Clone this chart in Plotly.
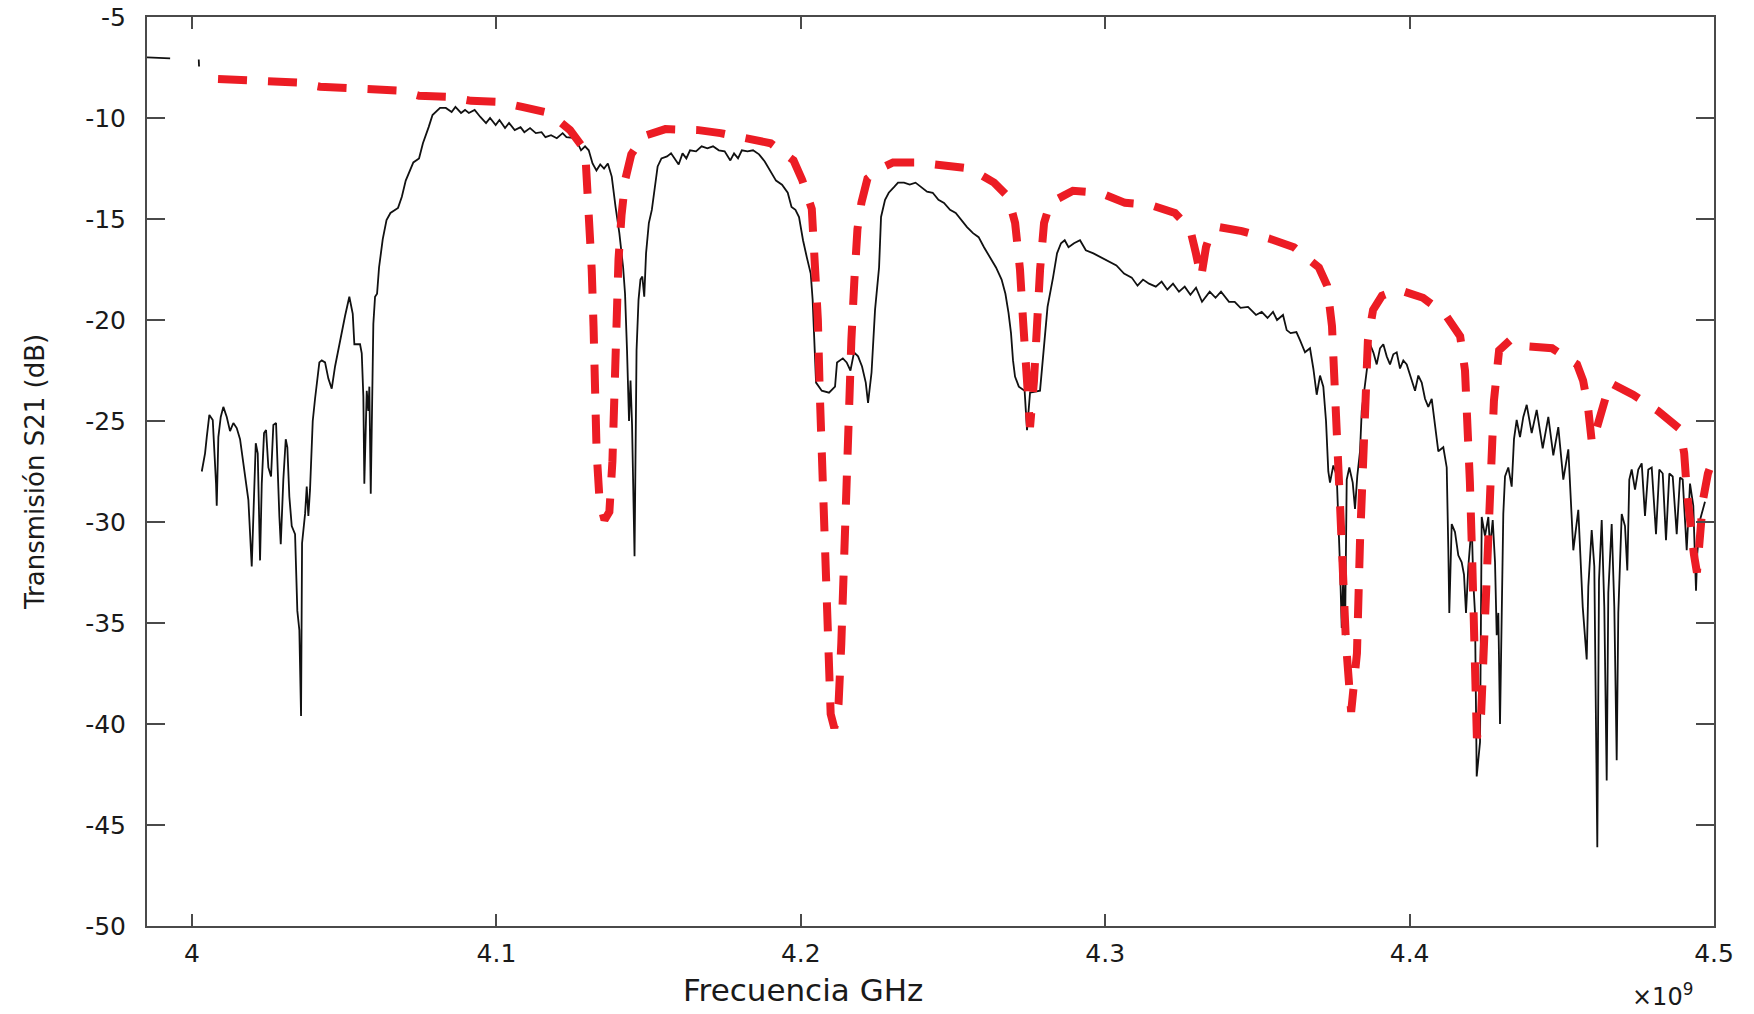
import plotly.graph_objects as go

# ---------------- data ----------------
# Measured transmission (black solid line); None = gap in the trace
meas_freq_ghz = [
    3.9852, 3.9928, None, 4.0022, 4.0023, None,
    4.00319, 4.00427, 4.00483, 4.00568, 4.00680, 4.00723, 4.00788, 4.00811, 4.00864, 4.00943,
    4.01028, 4.01140, 4.01248, 4.01357, 4.01468, 4.01577, 4.01685, 4.01774, 4.01850, 4.01961,
    4.02037, 4.02093, 4.02158, 4.02234, 4.02290, 4.02365, 4.02431, 4.02507, 4.02595, 4.02671,
    4.02760, 4.02802, 4.02868, 4.02914, 4.02999, 4.03078, 4.03131, 4.03197, 4.03275, 4.03384,
    4.03459, 4.03525, 4.03581, 4.03614, 4.03713, 4.03768, 4.03821, 4.03876, 4.03965, 4.04041,
    4.04097, 4.04182, 4.04261, 4.04369, 4.04478, 4.04589, 4.04698, 4.04806, 4.04918, 4.05026,
    4.05167, 4.05279, 4.05332, 4.05519, 4.05575, 4.05628, 4.05660, 4.05739, 4.05792, 4.05825,
    4.05871, 4.05913, 4.05956, 4.06012, 4.06078, 4.06143, 4.06265, 4.06389, 4.06518, 4.06767,
    4.06892, 4.07020, 4.07270, 4.07457, 4.07585, 4.07773, 4.07900, 4.08147, 4.08338, 4.08528,
    4.08653, 4.08837, 4.08968, 4.09093, 4.09284, 4.09471, 4.09658, 4.09790, 4.09974, 4.10099,
    4.10283, 4.10414, 4.10601, 4.10792, 4.10917, 4.11104, 4.11294, 4.11482, 4.11610, 4.11794,
    4.11984, 4.12175, 4.12300, 4.12592, 4.12779, 4.12911, 4.13032, 4.13157, 4.13285, 4.13410,
    4.13535, 4.13660, 4.13788, 4.13913, 4.14038, 4.14162, 4.14225, 4.14290, 4.14356, 4.14405,
    4.14455, 4.14537, 4.14603, 4.14668, 4.14731, 4.14793, 4.14856, 4.14915, 4.15007, 4.15105,
    4.15210, 4.15296, 4.15421, 4.15605, 4.15736, 4.15861, 4.15986, 4.16114, 4.16239, 4.16360,
    4.16557, 4.16741, 4.16929, 4.17116, 4.17306, 4.17497, 4.17684, 4.17806, 4.17937, 4.18062,
    4.18249, 4.18430, 4.18627, 4.18814, 4.19005, 4.19185, 4.19382, 4.19570, 4.19694, 4.19823,
    4.19941, 4.20072, 4.20197, 4.20325, 4.20388, 4.20450, 4.20500, 4.20687, 4.20926, 4.21124,
    4.21189, 4.21380, 4.21505, 4.21630, 4.21748, 4.21880, 4.22011, 4.22133, 4.22208, 4.22323,
    4.22438, 4.22570, 4.22635, 4.22767, 4.22888, 4.23075, 4.23193, 4.23390, 4.23578, 4.23768,
    4.23949, 4.24146, 4.24333, 4.24521, 4.24704, 4.24902, 4.25089, 4.25276, 4.25460, 4.25657,
    4.25841, 4.26018, 4.26215, 4.26412, 4.26596, 4.26721, 4.26823, 4.26905, 4.26971, 4.27037,
    4.27162, 4.27352, 4.27431, 4.27530, 4.27858, 4.27980, 4.28105, 4.28285, 4.28417, 4.28548,
    4.28669, 4.28794, 4.28975, 4.29172, 4.29363, 4.29612, 4.29862, 4.30115, 4.30368, 4.30618,
    4.30871, 4.31061, 4.31242, 4.31439, 4.31662, 4.31853, 4.32040, 4.32227, 4.32424, 4.32612,
    4.32799, 4.32983, 4.33180, 4.33433, 4.33624, 4.33804, 4.34067, 4.34254, 4.34445, 4.34691,
    4.34954, 4.35141, 4.35332, 4.35512, 4.35644, 4.35841, 4.35962, 4.36090, 4.36281, 4.36399,
    4.36564, 4.36728, 4.36837, 4.36948, 4.37057, 4.37165, 4.37254, 4.37329, 4.37385, 4.37494,
    4.37605, 4.37714, 4.37770, 4.37822, 4.37878, 4.37934, 4.38019, 4.38131, 4.38206, 4.38282,
    4.38371, 4.38427, 4.38479, 4.38591, 4.38700, 4.38808, 4.38919, 4.39028, 4.39136, 4.39248,
    4.39356, 4.39465, 4.39576, 4.39685, 4.39793, 4.39905, 4.40013, 4.40178, 4.40286, 4.40398,
    4.40506, 4.40614, 4.40726, 4.40834, 4.40943, 4.41107, 4.41219, 4.41271, 4.41304, 4.41383,
    4.41491, 4.41600, 4.41711, 4.41787, 4.41853, 4.41929, 4.42040, 4.42093, 4.42148, 4.42204,
    4.42313, 4.42369, 4.42477, 4.42586, 4.42641, 4.42730, 4.42806, 4.42861, 4.42914, 4.42970,
    4.43026, 4.43078, 4.43134, 4.43242, 4.43354, 4.43429, 4.43518, 4.43627, 4.43735, 4.43847,
    4.44011, 4.44175, 4.44373, 4.44557, 4.44721, 4.44885, 4.45049, 4.45214, 4.45378, 4.45542,
    4.45687, 4.45818, 4.45871, 4.45982, 4.46068, 4.46166, 4.46222, 4.46311, 4.46396, 4.46475,
    4.46528, 4.46639, 4.46725, 4.46803, 4.46856, 4.46968, 4.47076, 4.47152, 4.47217, 4.47296,
    4.47405, 4.47513, 4.47625, 4.47733, 4.47842, 4.47954, 4.48095, 4.48203, 4.48315, 4.48423,
    4.48532, 4.48644, 4.48775, 4.48883, 4.48972, 4.49103, 4.49212, 4.49320, 4.49409, 4.49451,
    4.49540, 4.49704,
]
meas_s21_db = [
    -7.0, -7.05, None, -7.1, -7.45, None,
    -27.5, -26.6, -25.8, -24.7, -24.95, -26.1, -28.1, -29.2, -25.8, -24.8,
    -24.3, -24.8, -25.5, -25.1, -25.35, -25.9, -27.1, -27.9, -28.9, -32.2,
    -28.25, -26.1, -26.6, -31.9, -28.1, -25.6, -25.45, -27.3, -27.75, -25.2,
    -25.1, -27.4, -29.7, -31.1, -27.9, -25.9, -26.3, -28.75, -30.2, -30.6,
    -34.4, -35.35, -39.6, -31.05, -29.6, -28.25, -29.7, -28.4, -25.0, -23.9,
    -23.2, -22.1, -22.0, -22.1, -22.9, -23.4, -22.3, -21.5, -20.5, -19.8,
    -18.85, -19.7, -21.2, -21.2, -21.65, -23.8, -28.1, -23.5, -24.5, -23.3,
    -28.6, -24.95, -20.2, -18.85, -18.7, -17.4, -16.0, -15.05, -14.7, -14.45,
    -13.9, -13.1, -12.2, -12.0, -11.25, -10.45, -9.85, -9.5, -9.5, -9.7,
    -9.45, -9.75, -9.6, -9.75, -9.6, -9.95, -10.25, -10.0, -10.35, -10.1,
    -10.5, -10.25, -10.6, -10.45, -10.7, -10.5, -10.75, -10.7, -10.95, -10.85,
    -11.0, -10.75, -10.95, -11.0, -11.6, -11.4, -11.6, -12.25, -12.6, -12.3,
    -12.5, -12.25, -12.9, -14.4, -15.7, -17.4, -18.7, -21.5, -25.0, -23.0,
    -25.2, -31.7, -21.5, -19.0, -18.0, -17.85, -18.85, -16.7, -15.2, -14.55,
    -13.2, -12.4, -12.0, -11.9, -11.75, -12.0, -12.3, -11.75, -12.0, -11.6,
    -11.65, -11.4, -11.5, -11.4, -11.6, -11.65, -12.1, -11.75, -12.0, -11.6,
    -11.65, -11.6, -11.8, -12.15, -12.65, -13.1, -13.3, -13.7, -14.4, -14.55,
    -14.9, -16.05, -16.9, -17.7, -19.0, -21.5, -23.1, -23.5, -23.6, -23.3,
    -22.1, -21.9, -22.1, -22.5, -21.6, -21.8, -22.3, -23.1, -24.1, -22.6,
    -19.5, -17.4, -14.9, -14.05, -13.7, -13.4, -13.2, -13.2, -13.3, -13.2,
    -13.4, -13.65, -13.7, -14.05, -14.2, -14.55, -14.7, -15.05, -15.4, -15.7,
    -15.9, -16.4, -16.9, -17.4, -18.0, -18.7, -19.65, -20.65, -22.0, -22.8,
    -23.3, -23.5, -25.45, -23.6, -23.5, -21.5, -19.35, -17.9, -16.7, -16.2,
    -16.05, -16.4, -16.2, -16.05, -16.55, -16.7, -16.9, -17.1, -17.3, -17.7,
    -17.9, -18.3, -18.0, -18.2, -18.35, -18.1, -18.5, -18.2, -18.6, -18.35,
    -18.75, -18.4, -19.1, -18.6, -18.9, -18.6, -19.1, -19.1, -19.4, -19.35,
    -19.75, -19.6, -19.9, -19.6, -20.0, -19.75, -20.5, -20.65, -20.6, -21.0,
    -21.6, -21.4, -22.4, -23.7, -22.75, -23.3, -25.0, -27.5, -28.05, -27.2,
    -27.7, -32.2, -35.25, -32.6, -35.6, -27.9, -27.3, -28.05, -29.35, -27.7,
    -26.5, -24.5, -23.9, -22.4, -21.2, -21.6, -22.2, -21.4, -21.2, -21.8,
    -22.2, -21.7, -21.6, -22.4, -22.0, -22.2, -22.75, -23.5, -22.75, -23.1,
    -23.9, -24.3, -23.9, -25.2, -26.5, -26.3, -27.3, -31.3, -34.5, -30.1,
    -30.5, -31.65, -32.0, -32.6, -34.5, -32.2, -30.1, -33.0, -34.5, -42.6,
    -40.9, -29.75, -30.7, -29.75, -31.3, -29.9, -32.0, -35.6, -34.5, -40.0,
    -33.0, -29.6, -27.75, -27.3, -28.25, -25.9, -24.95, -25.8, -24.8, -24.2,
    -25.6, -24.45, -26.35, -24.8, -26.7, -25.3, -27.9, -26.4, -31.4, -29.4,
    -34.2, -36.8, -33.2, -30.4, -32.2, -46.1, -32.9, -29.9, -34.2, -42.8,
    -33.5, -30.1, -34.2, -41.8, -34.5, -29.6, -30.2, -32.4, -27.9, -27.4,
    -28.4, -27.4, -27.1, -29.7, -27.4, -27.3, -30.6, -27.4, -27.6, -30.9,
    -27.6, -27.75, -30.6, -27.8, -27.9, -31.4, -28.1, -29.2, -33.4, -31.55,
    -29.9, -29.0,
]

# Simulated transmission (red dashed line)
sim_freq_ghz = [
    4.00854, 4.01741, 4.02431, 4.03482, 4.04205, 4.05125, 4.05815, 4.06833, 4.07457, 4.08410,
    4.09166, 4.10085, 4.10841, 4.11728, 4.12418, 4.12812, 4.12940, 4.13060, 4.13130, 4.13190,
    4.13230, 4.13290, 4.13390, 4.13550, 4.13710, 4.13810, 4.13880, 4.13940, 4.14010, 4.14110,
    4.14240, 4.14430, 4.14830, 4.15550, 4.16640, 4.17360, 4.18180, 4.19010, 4.19760, 4.20040,
    4.20360, 4.20460, 4.20560, 4.20620, 4.20690, 4.20750, 4.20820, 4.20890, 4.20980, 4.21100,
    4.21240, 4.21330, 4.21430, 4.21500, 4.21560, 4.21660, 4.21760, 4.21860, 4.21990, 4.22190,
    4.22600, 4.23030, 4.23850, 4.24740, 4.25560, 4.26350, 4.26810, 4.27040, 4.27200, 4.27300,
    4.27400, 4.27530, 4.27660, 4.27760, 4.27860, 4.27990, 4.28190, 4.28940, 4.29830, 4.30650,
    4.31470, 4.32290, 4.32790, 4.32980, 4.33150, 4.33310, 4.33440, 4.33740, 4.34490, 4.35450,
    4.36200, 4.37020, 4.37290, 4.37450, 4.37550, 4.37650, 4.37710, 4.37810, 4.37910, 4.38080,
    4.38270, 4.38370, 4.38470, 4.38570, 4.38630, 4.38800, 4.39090, 4.39620, 4.40440, 4.41160,
    4.41660, 4.41820, 4.41920, 4.41980, 4.42050, 4.42120, 4.42210, 4.42350, 4.42440, 4.42540,
    4.42640, 4.42770, 4.42940, 4.43300, 4.43790, 4.44680, 4.45500, 4.45700, 4.45860, 4.45990,
    4.46160, 4.46390, 4.46580, 4.47340, 4.48160, 4.48880, 4.49020, 4.49110, 4.49210, 4.49340,
    4.49440, 4.49540, 4.49640, 4.49800, 4.49970,
]
sim_s21_db = [
    -8.07, -8.1, -8.2, -8.25, -8.45, -8.5, -8.6, -8.65, -8.9, -8.95,
    -9.15, -9.2, -9.45, -9.75, -10.6, -11.4, -12.3, -14.8, -17.5, -20.3,
    -23.5, -26.5, -29.0, -29.9, -29.5, -27.0, -23.5, -20.3, -17.0, -14.8,
    -13.0, -11.8, -10.9, -10.55, -10.6, -10.75, -10.95, -11.25, -12.1, -13.05,
    -14.5, -17.0, -20.0, -23.5, -27.0, -30.5, -34.0, -37.0, -39.5, -40.2,
    -39.0, -36.0, -31.0, -27.0, -23.5, -21.0, -18.0, -15.5, -14.2, -13.0,
    -12.5, -12.2, -12.2, -12.4, -12.5, -13.2, -13.9, -15.2, -17.5, -20.0,
    -23.0, -25.3, -23.0, -20.0, -17.5, -15.2, -14.2, -13.6, -13.7, -14.2,
    -14.3, -14.7, -15.5, -16.7, -17.9, -16.4, -15.8, -15.4, -15.6, -16.0,
    -16.4, -17.4, -18.3, -20.3, -23.0, -26.0, -29.0, -32.5, -36.0, -39.4,
    -36.5, -31.0, -26.5, -23.0, -21.0, -19.5, -18.8, -18.5, -18.9, -19.7,
    -20.8, -22.5, -25.0, -28.0, -31.5, -35.5, -40.7, -39.5, -36.5, -32.0,
    -28.0, -24.0, -21.5, -21.0, -21.3, -21.4, -22.2, -23.0, -24.3, -26.1,
    -25.3, -24.2, -23.1, -23.7, -24.5, -25.4, -26.6, -28.5, -30.2, -31.6,
    -32.5, -30.5, -28.9, -27.6, -26.9,
]

# Axis ticks
x_tick_vals = [4.0, 4.1, 4.2, 4.3, 4.4, 4.5]
x_tick_text = ["4", "4.1", "4.2", "4.3", "4.4", "4.5"]
y_tick_vals = [-50, -45, -40, -35, -30, -25, -20, -15, -10, -5]
y_tick_text = ["-50", "-45", "-40", "-35", "-30", "-25", "-20", "-15", "-10", "-5"]
x_range = [3.9852, 4.5]
y_range = [-50, -5]

FONT = "DejaVu Sans, Liberation Sans, Arial, sans-serif"
AXIS_COLOR = "#4a4a4a"
TEXT_COLOR = "#1a1a1a"

fig = go.Figure()
fig.add_trace(go.Scatter(
    x=meas_freq_ghz, y=meas_s21_db, mode="lines",
    line=dict(color="#111111", width=1.8),
    connectgaps=False, showlegend=False, name="Medida",
))
fig.add_trace(go.Scatter(
    x=sim_freq_ghz, y=sim_s21_db, mode="lines",
    line=dict(color="#ec1c24", width=8, dash="29px,21px"),
    showlegend=False, name="Simulación",
))

fig.update_layout(
    width=1754, height=1014,
    margin=dict(l=147, r=40, t=17, b=88),
    paper_bgcolor="white", plot_bgcolor="white",
    font=dict(family=FONT, color=TEXT_COLOR, size=25),
    xaxis=dict(
        range=x_range, tickvals=x_tick_vals, ticktext=x_tick_text,
        ticks="inside", ticklen=12, tickwidth=2, tickcolor=AXIS_COLOR,
        showline=True, linecolor=AXIS_COLOR, linewidth=2, mirror="ticks",
        showgrid=False, zeroline=False, ticklabelstandoff=4, automargin=False,
        tickfont=dict(size=25, family=FONT, color=TEXT_COLOR),
    ),
    yaxis=dict(
        range=y_range, tickvals=y_tick_vals, ticktext=y_tick_text,
        ticks="inside", ticklen=18, tickwidth=2, tickcolor=AXIS_COLOR,
        showline=True, linecolor=AXIS_COLOR, linewidth=2, mirror="ticks",
        showgrid=False, zeroline=False, ticklabelstandoff=14, automargin=False,
        tickfont=dict(size=25, family=FONT, color=TEXT_COLOR),
    ),
    annotations=[
        dict(text="Transmisión S21 (dB)", xref="paper", yref="paper",
             x=-0.0718, y=0.5, xanchor="center", yanchor="middle",
             textangle=-90, showarrow=False,
             font=dict(size=26, family=FONT, color=TEXT_COLOR)),
        dict(text="Frecuencia GHz", xref="paper", yref="paper",
             x=0.4186, y=-0.0704, xanchor="center", yanchor="middle",
             showarrow=False, font=dict(size=31, family=FONT, color=TEXT_COLOR)),
        dict(text="×10<sup>9</sup>", xref="paper", yref="paper",
             x=0.988, y=-0.0759, xanchor="right", yanchor="middle",
             showarrow=False, font=dict(size=24, family=FONT, color=TEXT_COLOR)),
    ],
)

fig.write_html(
    "out.html",
    config={"displayModeBar": False},
    post_script="document.body.style.margin='0';document.body.style.padding='0';",
)
